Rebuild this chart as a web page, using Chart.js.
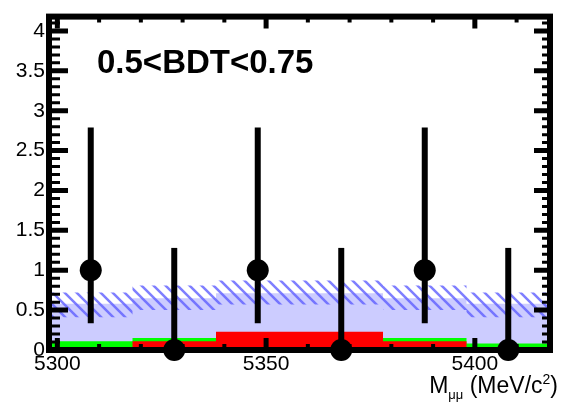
<!DOCTYPE html>
<html>
<head>
<meta charset="utf-8">
<script src="https://cdn.jsdelivr.net/npm/chart.js@4.4.0/dist/chart.umd.min.js"></script>
<style>
  html, body { margin: 0; padding: 0; background: #fff; }
</style>
</head>
<body>
<canvas id="myChart" width="561" height="403"></canvas>
<script>
// bins of M_mumu (MeV/c^2)
const binEdges = [5298, 5318, 5338, 5358, 5378, 5398, 5418];
const binCenters = [5308, 5328, 5348, 5368, 5388, 5408];
// observed events and the ends of their error bars
const observed = [1, 0, 1, 0, 1, 0];
const obsLow = [0.335, 0, 0.335, 0, 0.335, 0];
const obsHigh = [2.79, 1.28, 2.79, 1.28, 2.79, 1.28];
// expectation (blue) and its uncertainty band
const expected = [0.58, 0.65, 0.71, 0.71, 0.65, 0.58];
const expLow = [0.41, 0.50, 0.57, 0.57, 0.50, 0.41];
const expHigh = [0.72, 0.81, 0.87, 0.87, 0.81, 0.72];
// background components
const greenBkg = [0.11, 0.15, 0.2, 0.2, 0.15, 0.08];
const redBkg = [0, 0.11, 0.23, 0.23, 0.11, 0];
// axis ticks
const xTicks = [5300, 5350, 5400];
const yTicks = [0, 0.5, 1, 1.5, 2, 2.5, 3, 3.5, 4];

Chart.defaults.font.family = '"Liberation Sans", Arial, sans-serif';
Chart.defaults.color = '#000';

// step histogram: value i holds from edge i to edge i+1
function steps(vals) {
  return binEdges.map((x, i) => ({ x: x, y: vals[Math.min(i, vals.length - 1)] }));
}

function makeHatch() {
  const c = document.createElement('canvas');
  c.width = 12; c.height = 12;
  const g = c.getContext('2d');
  g.strokeStyle = 'rgba(95,95,255,0.8)';
  g.lineWidth = 2.5;
  g.beginPath();
  [-12, 0, 12].forEach(k => {
    g.moveTo(k - 2, -2);
    g.lineTo(k + 14, 14);
  });
  g.stroke();
  return g.createPattern(c, 'repeat');
}

const histLine = { type: 'line', stepped: true, pointRadius: 0, borderWidth: 0, borderColor: 'rgba(0,0,0,0)' };

const framePlugin = {
  id: 'frame',
  afterDatasetsDraw(chart) {
    const { ctx, chartArea: a, scales: { x, y } } = chart;
    ctx.save();
    ctx.strokeStyle = '#000';
    // error bars
    ctx.lineWidth = 6;
    binCenters.forEach((m, i) => {
      const px = x.getPixelForValue(m);
      ctx.beginPath();
      ctx.moveTo(px, y.getPixelForValue(obsLow[i]));
      ctx.lineTo(px, y.getPixelForValue(obsHigh[i]));
      ctx.stroke();
    });
    // frame
    ctx.strokeRect(a.left, a.top, a.right - a.left, a.bottom - a.top);
    // x ticks, bottom and top
    for (let v = 5300; v <= 5410; v += 10) {
      const px = x.getPixelForValue(v);
      const major = v % 50 === 0;
      ctx.lineWidth = major ? 5 : 4;
      const len = major ? 12 : 6;
      ctx.beginPath();
      ctx.moveTo(px, a.bottom); ctx.lineTo(px, a.bottom - len);
      ctx.moveTo(px, a.top); ctx.lineTo(px, a.top + len);
      ctx.stroke();
    }
    // y ticks, left and right
    for (let i = 0; i <= 41; i++) {
      const py = y.getPixelForValue(i / 10);
      const major = i % 5 === 0;
      ctx.lineWidth = major ? 5 : 3;
      ctx.beginPath();
      ctx.moveTo(a.left, py); ctx.lineTo(a.left + (major ? 19 : 11), py);
      ctx.moveTo(a.right, py); ctx.lineTo(a.right - (major ? 16 : 8), py);
      ctx.stroke();
    }
    ctx.restore();
  },
  afterDraw(chart) {
    const { ctx } = chart;
    ctx.save();
    ctx.fillStyle = '#000';
    ctx.textBaseline = 'alphabetic';
    ctx.font = 'bold 33px "Liberation Sans"';
    ctx.fillText('0.5<BDT<0.75', 97, 73);
    // axis title M_mumu (MeV/c^2)
    const parts = [
      { t: 'M', f: '23px "Liberation Sans"', dy: 0 },
      { t: 'μμ', f: '13px "Liberation Sans"', dy: 6 },
      { t: ' (MeV/c', f: '23px "Liberation Sans"', dy: 0 },
      { t: '2', f: '14px "Liberation Sans"', dy: -9 },
      { t: ')', f: '23px "Liberation Sans"', dy: 0 }
    ];
    let total = 0;
    parts.forEach(p => { ctx.font = p.f; p.w = ctx.measureText(p.t).width; total += p.w; });
    let cx = 558 - total;
    parts.forEach(p => { ctx.font = p.f; ctx.fillText(p.t, cx, 393 + p.dy); cx += p.w; });
    ctx.restore();
  }
};

const ctx = document.getElementById('myChart').getContext('2d');
const myChart = new Chart(ctx, {
  type: 'line',
  data: {
    datasets: [
      Object.assign({}, histLine, { label: 'expected', data: steps(expected), fill: 'origin', backgroundColor: 'rgb(204,204,255)', order: 6 }),
      Object.assign({}, histLine, { label: 'band low', data: steps(expLow), fill: false, order: 5 }),
      Object.assign({}, histLine, { label: 'band high', data: steps(expHigh), fill: '-1', backgroundColor: makeHatch(), order: 4 }),
      Object.assign({}, histLine, { label: 'green', data: steps(greenBkg), fill: 'origin', backgroundColor: 'rgb(0,255,0)', order: 3 }),
      Object.assign({}, histLine, { label: 'red', data: steps(redBkg), fill: 'origin', backgroundColor: 'rgb(255,0,0)', order: 2 }),
      {
        type: 'line', label: 'data', showLine: false, order: 1, clip: false,
        data: binCenters.map((m, i) => ({ x: m, y: observed[i] })),
        pointRadius: 11, pointBackgroundColor: '#000', pointBorderWidth: 0, borderColor: '#000'
      }
    ]
  },
  options: {
    responsive: false,
    animation: false,
    events: [],
    layout: { padding: { top: 13, right: 2, left: 0, bottom: 0 } },
    plugins: { legend: { display: false }, tooltip: { enabled: false } },
    scales: {
      x: {
        type: 'linear', min: 5298, max: 5418,
        grid: { display: false, drawTicks: false }, border: { display: false },
        ticks: { padding: 2, font: { size: 21 }, color: '#000', maxRotation: 0, callback: v => String(v) },
        afterBuildTicks: s => { s.ticks = xTicks.map(v => ({ value: v })); },
        afterFit: s => { s.height = 53; }
      },
      y: {
        type: 'linear', min: 0, max: 4.18,
        grid: { display: false, drawTicks: false }, border: { display: false },
        ticks: { padding: 4, font: { size: 21 }, color: '#000', callback: v => String(v) },
        afterBuildTicks: s => { s.ticks = yTicks.map(v => ({ value: v })); },
        afterFit: s => { s.width = 49; }
      }
    }
  },
  plugins: [framePlugin]
});
</script>
</body>
</html>
